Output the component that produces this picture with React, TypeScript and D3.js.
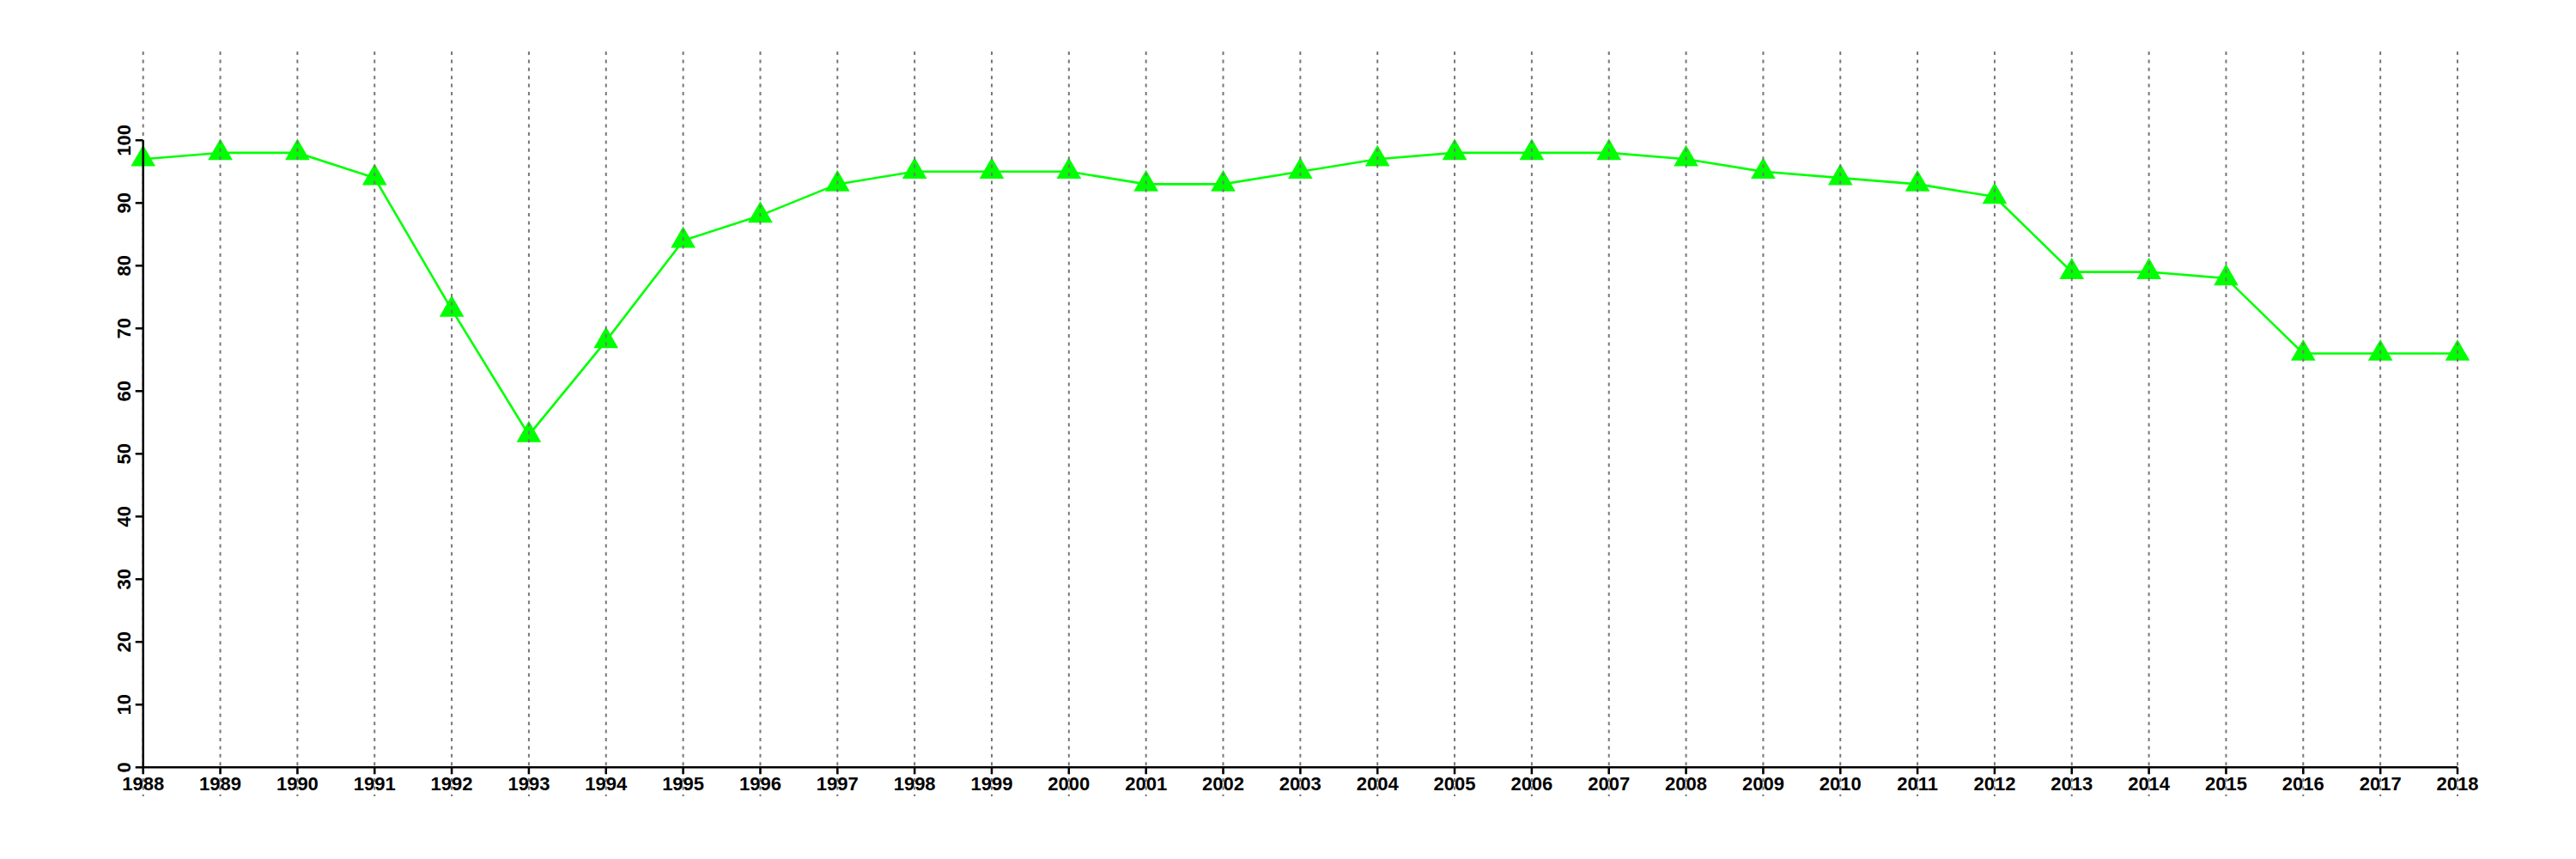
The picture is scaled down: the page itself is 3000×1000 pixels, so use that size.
import React from "react";
import * as d3 from "d3";

const years: number[] = [
  1988, 1989, 1990, 1991, 1992, 1993, 1994, 1995, 1996, 1997, 1998, 1999, 2000,
  2001, 2002, 2003, 2004, 2005, 2006, 2007, 2008, 2009, 2010, 2011, 2012, 2013,
  2014, 2015, 2016, 2017, 2018,
];
const values: number[] = [
  97, 98, 98, 94, 73, 53, 68, 84, 88, 93, 95, 95, 95, 93, 93, 95, 97, 98, 98,
  98, 97, 95, 94, 93, 91, 79, 79, 78, 66, 66, 66,
];
const yTicks: number[] = [0, 10, 20, 30, 40, 50, 60, 70, 80, 90, 100];

const W = 3000;
const H = 1000;
const FONT = "'Liberation Sans', Arial, Helvetica, sans-serif";

export default function App() {
  const x = d3.scaleLinear().domain([1988, 2018]).range([166.7, 2862]);
  const y = d3.scaleLinear().domain([0, 100]).range([893.3, 163.3]);

  const line = d3
    .line<number>()
    .x((_, i) => x(years[i]))
    .y((d) => y(d));

  const tri = d3.symbol().type(d3.symbolTriangle).size(356)();

  return (
    <svg
      width={W}
      height={H}
      style={{ position: "absolute", left: 0, top: 0, display: "block", background: "#fff" }}
    >
      <rect x={0} y={0} width={W} height={H} fill="#fff" />
      {/* series line */}
      <path d={line(values) || ""} fill="none" stroke="#00ff00" strokeWidth={2.6} />
      {values.map((v, i) => (
        <path
          key={"p" + i}
          d={tri || ""}
          transform={`translate(${x(years[i])},${y(v)})`}
          fill="#00ff00"
        />
      ))}
      {/* vertical dotted grid */}
      {years.map((yr) => (
        <line
          key={"g" + yr}
          x1={x(yr)}
          x2={x(yr)}
          y1={60}
          y2={927}
          stroke="#777777"
          strokeWidth={2}
          strokeDasharray="4,5.4"
        />
      ))}
      {/* y axis */}
      <line x1={x(1988)} x2={x(1988)} y1={y(0)} y2={y(100)} stroke="#000" strokeWidth={2.5} />
      {yTicks.map((t) => (
        <g key={"yt" + t}>
          <line x1={x(1988) - 9} x2={x(1988)} y1={y(t)} y2={y(t)} stroke="#000" strokeWidth={2.5} />
          <text
            transform={`translate(151.5,${y(t)}) rotate(-90)`}
            textAnchor="middle"
            fontFamily={FONT}
            fontWeight="bold"
            fontSize={22}
            fill="#000"
          >
            {t}
          </text>
        </g>
      ))}
      {/* x axis */}
      <line x1={x(1988)} x2={x(2018)} y1={y(0)} y2={y(0)} stroke="#000" strokeWidth={2.5} />
      {years.map((yr) => (
        <g key={"xt" + yr}>
          <line x1={x(yr)} x2={x(yr)} y1={y(0)} y2={y(0) + 8} stroke="#000" strokeWidth={2.5} />
          <text
            x={x(yr)}
            y={920}
            textAnchor="middle"
            fontFamily={FONT}
            fontWeight="bold"
            fontSize={22}
            fill="#000"
          >
            {yr}
          </text>
        </g>
      ))}
    </svg>
  );
}
